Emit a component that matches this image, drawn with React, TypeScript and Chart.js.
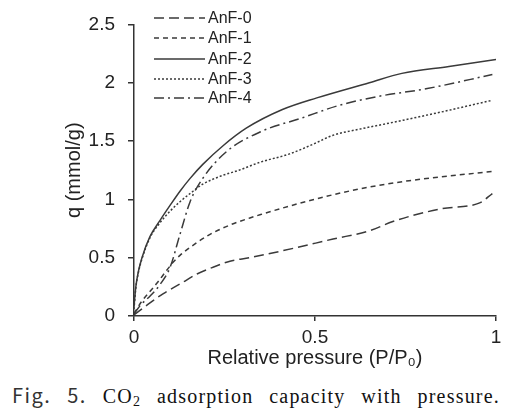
import React, { useEffect, useRef } from "react";
import { Chart, registerables } from "chart.js";

Chart.register(...registerables);

const seriesNames = ["AnF-0", "AnF-1", "AnF-2", "AnF-3", "AnF-4"];

const p0 = [0, 0.03, 0.08, 0.13, 0.174, 0.22, 0.265, 0.32, 0.44, 0.55, 0.65, 0.715, 0.85, 0.955, 0.99];
const q0 = [0.01, 0.08, 0.19, 0.28, 0.36, 0.42, 0.47, 0.5, 0.58, 0.66, 0.73, 0.81, 0.92, 0.97, 1.05];

const p1 = [0, 0.02, 0.044, 0.063, 0.09, 0.108, 0.127, 0.174, 0.21, 0.265, 0.32, 0.35, 0.486, 0.624, 0.76, 0.99];
const q1 = [0.02, 0.12, 0.21, 0.28, 0.39, 0.46, 0.52, 0.63, 0.7, 0.78, 0.84, 0.87, 0.99, 1.09, 1.16, 1.24];

const p2 = [0, 0.005, 0.012, 0.022, 0.044, 0.072, 0.1, 0.127, 0.155, 0.19, 0.246, 0.31, 0.41, 0.505, 0.65, 0.74, 0.87, 1.0];
const q2 = [0.08, 0.25, 0.38, 0.5, 0.68, 0.82, 0.95, 1.07, 1.18, 1.3, 1.46, 1.61, 1.77, 1.87, 2.0, 2.08, 2.14, 2.2];

const p3 = [0, 0.005, 0.012, 0.022, 0.044, 0.072, 0.1, 0.127, 0.155, 0.19, 0.24, 0.29, 0.35, 0.43, 0.5, 0.55, 0.62, 0.715, 0.85, 0.99];
const q3 = [0.06, 0.24, 0.37, 0.49, 0.67, 0.8, 0.9, 0.98, 1.05, 1.13, 1.2, 1.25, 1.32, 1.39, 1.48, 1.55, 1.6, 1.66, 1.75, 1.85];

const p4 = [0, 0.02, 0.044, 0.072, 0.1, 0.127, 0.155, 0.19, 0.256, 0.35, 0.466, 0.56, 0.67, 0.81, 0.99];
const q4 = [0.02, 0.1, 0.17, 0.27, 0.42, 0.7, 0.98, 1.18, 1.41, 1.58, 1.7, 1.8, 1.88, 1.95, 2.07];

const xTicks = [0, 0.5, 1];
const yTicks = [0, 0.5, 1, 1.5, 2, 2.5];

const captionWords = ["Fig.", "5.", "CO", "adsorption", "capacity", "with", "pressure."];

const dashes: number[][] = [[10, 5], [5, 4], [], [2, 2], [10, 4, 2, 4]];
const LINE = "#3a3a3a";
const SANS = "'Liberation Sans', Arial, sans-serif";

const legendPlugin = {
  id: "insideLegend",
  afterDraw(chart: any) {
    const ctx = chart.ctx;
    const rows = [18, 38, 59, 79, 98];
    ctx.save();
    ctx.font = `16px ${SANS}`;
    ctx.fillStyle = "#222";
    ctx.textBaseline = "middle";
    chart.data.datasets.forEach((ds: any, i: number) => {
      const y = rows[i];
      ctx.strokeStyle = LINE;
      ctx.lineWidth = 1.5;
      ctx.setLineDash(ds.borderDash || []);
      ctx.beginPath();
      ctx.moveTo(154, y);
      ctx.lineTo(205, y);
      ctx.stroke();
      ctx.setLineDash([]);
      ctx.fillText(ds.label, 208, y + 1);
    });
    ctx.restore();
  },
};

export default function App() {
  const ref = useRef<HTMLCanvasElement | null>(null);
  useEffect(() => {
    document.body.style.margin = "0";
    const pairs = [
      [p0, q0],
      [p1, q1],
      [p2, q2],
      [p3, q3],
      [p4, q4],
    ];
    const chart = new Chart(ref.current as HTMLCanvasElement, {
      type: "line",
      data: {
        datasets: pairs.map(([px, qy], i) => ({
          label: seriesNames[i],
          data: px.map((x, k) => ({ x, y: qy[k] })),
          borderColor: LINE,
          borderWidth: 1.5,
          borderDash: dashes[i],
          pointRadius: 0,
          fill: false,
          cubicInterpolationMode: "monotone" as const,
        })),
      },
      options: {
        animation: false,
        responsive: true,
        maintainAspectRatio: false,
        layout: { padding: { left: 50, right: 21, top: 22, bottom: 0 } },
        plugins: { legend: { display: false }, tooltip: { enabled: false } },
        scales: {
          x: {
            type: "linear",
            min: 0,
            max: 1,
            afterFit: (s: any) => {
              s.height = 56;
            },
            afterBuildTicks: (s: any) => {
              s.ticks = xTicks.map((v) => ({ value: v }));
            },
            ticks: {
              color: "#222",
              font: { family: SANS, size: 19 },
              padding: 5,
              maxRotation: 0,
              callback: (v: any) => String(v),
            },
            grid: { drawOnChartArea: false, drawTicks: true, tickLength: 5, color: "#333", lineWidth: 1.5 },
            border: { display: true, color: "#333", width: 1.5 },
            title: {
              display: true,
              text: "Relative pressure (P/P₀)",
              color: "#222",
              font: { family: SANS, size: 20 },
              padding: { top: 0, bottom: 2 },
            },
          },
          y: {
            type: "linear",
            min: 0,
            max: 2.5,
            afterFit: (s: any) => {
              s.width = 84;
            },
            afterBuildTicks: (s: any) => {
              s.ticks = yTicks.map((v) => ({ value: v }));
            },
            ticks: {
              color: "#222",
              font: { family: SANS, size: 19 },
              padding: 13,
              callback: (v: any) => String(v),
            },
            grid: { drawOnChartArea: false, drawTicks: true, tickLength: 6, color: "#333", lineWidth: 1.5 },
            border: { display: true, color: "#333", width: 1.5 },
            title: {
              display: true,
              text: "q (mmol/g)",
              color: "#222",
              font: { family: SANS, size: 20 },
              padding: { top: 12, bottom: 0 },
            },
          },
        },
      },
      plugins: [legendPlugin],
    });
    return () => chart.destroy();
  }, []);

  const serif = "'Liberation Serif', 'Times New Roman', serif";
  const sansCap = "'Noto Sans CJK KR', 'Liberation Sans', sans-serif";

  return (
    <div style={{ position: "relative", width: 517, height: 416 }}>
      <div style={{ position: "absolute", left: 0, top: 0, width: 517, height: 372 }}>
        <canvas ref={ref} />
      </div>
      <div
        style={{
          position: "absolute",
          left: 12,
          top: 384,
          width: 488,
          display: "flex",
          justifyContent: "space-between",
          alignItems: "baseline",
          lineHeight: "22px",
          whiteSpace: "nowrap",
        }}
      >
        {captionWords.map((w, i) => (
          <span
            key={i}
            style={{
              fontSize: 20,
              letterSpacing: i < 2 ? "1.5px" : "1.2px",
              fontFamily: i < 2 ? sansCap : serif,
              color: i < 2 ? "#333" : "#111",
            }}
          >
            {w}
            {w === "CO" ? <span style={{ fontSize: 14, verticalAlign: "-3px" }}>2</span> : null}
          </span>
        ))}
      </div>
    </div>
  );
}
